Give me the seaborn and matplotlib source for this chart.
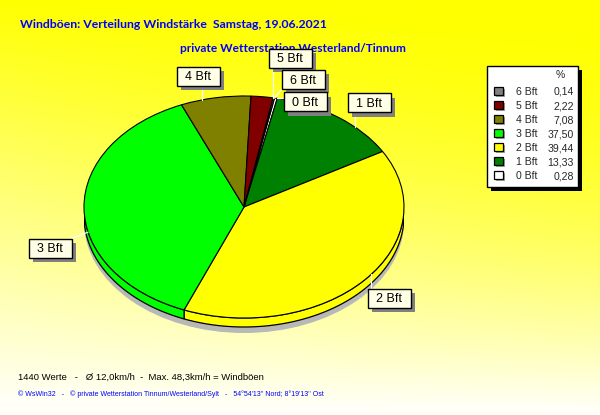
import numpy as np
import matplotlib
matplotlib.use("Agg")
import matplotlib.pyplot as plt
import seaborn as sns
from matplotlib.patches import Rectangle, Polygon, Ellipse

# ---------------- data ----------------
categories = ["0 Bft", "1 Bft", "2 Bft", "3 Bft", "4 Bft", "5 Bft", "6 Bft"]
percent = [0.28, 13.33, 39.44, 37.50, 7.08, 2.22, 0.14]
percent_labels = ["0,28", "13,33", "39,44", "37,50", "7,08", "2,22", "0,14"]
slice_colors = ["#FFFFFF", "#008000", "#FFFF00", "#00FF00", "#808000", "#800000", "#808080"]

title = "Windböen: Verteilung Windstärke  Samstag, 19.06.2021"
subtitle = "private Wetterstation Westerland/Tinnum"
footer1 = "1440 Werte   -   Ø 12,0km/h  -  Max. 48,3km/h = Windböen"
footer2 = ("© WsWin32   -   © private Wetterstation Tinnum/Westerland/Sylt   -   "
           "54°54'13'' Nord; 8°19'13'' Ost")

# ---------------- layout (pixels) ----------------
W, H = 600, 415
cx, cy, rx, ry = 244, 207, 160, 111
depth = 9
start_angle = 79
label_centers = {"0 Bft": (305, 102), "1 Bft": (369, 103), "2 Bft": (389, 298),
                 "3 Bft": (50, 248), "4 Bft": (198, 77), "5 Bft": (290, 59),
                 "6 Bft": (303, 80)}
box_w, box_h = 43, 19

sns.set_theme(style="white")
plt.rcParams['font.family'] = ['Liberation Sans', 'DejaVu Sans']
TFONT = ['Lato', 'Liberation Sans']

fig = plt.figure(figsize=(W / 100, H / 100), dpi=100)

# background gradient
bg = fig.add_axes([0, 0, 1, 1])
bg.set_xlim(0, W); bg.set_ylim(H, 0); bg.axis('off')
ys = (np.arange(H) + 0.5)[:, None] / H
xs = (np.arange(W) + 0.5)[None, :] / W
blue = np.clip(ys ** (1.0 + 0.9 * xs), 0, 0.97)
img = np.dstack([np.ones_like(blue), np.ones_like(blue), blue])
bg.imshow(img, extent=(0, W, H, 0), aspect='auto', zorder=0)

# pie axes
ext = 30
ax = fig.add_axes([(cx - rx) / W, 1 - (cy + ry + ext) / H, 2 * rx / W, (2 * ry + ext) / H])
ax.axis('off')
d = depth / ry

# shadow
ax.add_patch(Ellipse((0.0, -d - 6 / ry), 2.0, 2.0, fc="#B8B8B8", ec='none', zorder=0))

# side band
total = sum(percent)
bounds = [start_angle]
for p in percent:
    bounds.append(bounds[-1] - 360 * p / total)
for i, col in enumerate(slice_colors):
    a0, a1 = bounds[i + 1], bounds[i]
    for shift in (-720, -360, 0, 360):
        lo = max(a0 + shift, -180)
        hi = min(a1 + shift, 0)
        if hi > lo:
            tt = np.radians(np.linspace(lo, hi, 80))
            top = np.column_stack([np.cos(tt), np.sin(tt)])
            bot = np.column_stack([np.cos(tt), np.sin(tt) - d])[::-1]
            ax.add_patch(Polygon(np.vstack([top, bot]), closed=True, fc=col,
                                 ec='black', lw=0.9, zorder=1))

wedges, _ = ax.pie(percent, colors=slice_colors, startangle=start_angle,
                   counterclock=False,
                   wedgeprops=dict(edgecolor='black', linewidth=0.8))
for w in wedges:
    w.set_zorder(2)
ax.set_aspect('auto')
ax.set_xlim(-1, 1)
ax.set_ylim(-1 - ext / ry, 1)

# overlay
ov = fig.add_axes([0, 0, 1, 1])
ov.set_xlim(0, W); ov.set_ylim(H, 0); ov.axis('off')
ov.patch.set_alpha(0)

ov.text(20, 25, title, color="#0000FF", fontsize=8.8, fontweight='bold',
        va='center', ha='left', family=TFONT)
ov.text(180, 49, subtitle, color="#0000FF", fontsize=8.6, fontweight='bold',
        va='center', ha='left', family=TFONT)

# slice labels with leader lines
for i, cat in enumerate(categories):
    lx, ly = label_centers[cat]
    tt = np.radians(np.linspace(bounds[i + 1], bounds[i], 60))
    rpx = cx + rx * np.cos(tt)
    rpy = cy - ry * np.sin(tt)
    k = np.argmin((rpx - lx) ** 2 + (rpy - ly) ** 2)
    px, py = rpx[k], rpy[k]
    bx = np.clip(px, lx - box_w / 2, lx + box_w / 2)
    by = np.clip(py, ly - box_h / 2, ly + box_h / 2)
    ov.plot([px, bx], [py, by], color='white', lw=0.9, zorder=3)
    ov.add_patch(Rectangle((lx - box_w / 2 + 4, ly - box_h / 2 + 4), box_w, box_h,
                           fc="#808080", ec='none', zorder=4))
    ov.add_patch(Rectangle((lx - box_w / 2, ly - box_h / 2), box_w, box_h,
                           fc="#FFFFE8", ec='black', lw=1, zorder=5))
    ov.text(lx, ly + 0.5, cat, fontsize=9, ha='center', va='center', color='black', zorder=6)

# legend
lx0, ly0, lw_, lh_ = 487, 66, 91, 121
ov.add_patch(Rectangle((lx0 + 4, ly0 + 4), lw_, lh_, fc='black', ec='none', zorder=4))
ov.add_patch(Rectangle((lx0, ly0), lw_, lh_, fc='white', ec='black', lw=1, zorder=5))
ov.text(560, 75, "%", fontsize=7.5, ha='center', va='center', zorder=6)
for k, i in enumerate(range(len(categories) - 1, -1, -1)):
    yk = 92 + 14 * k
    ov.add_patch(Rectangle((496, yk - 3), 9, 8, fc='#A0A0A0', ec='none', zorder=5))
    ov.add_patch(Rectangle((494, yk - 5), 9, 8, fc=slice_colors[i], ec='black', lw=0.9, zorder=6))
    ov.text(516, yk, categories[i], fontsize=7.6, ha='left', va='center', zorder=6)
    ov.text(574, yk, percent_labels[i], fontsize=7.6, ha='right', va='center', zorder=6)

ov.text(18, 377, footer1, fontsize=6.8, ha='left', va='center', color='black')
ov.text(18, 394, footer2, fontsize=5.05, ha='left', va='center', color='#0000FF')

fig.savefig("out.png", dpi=100)
